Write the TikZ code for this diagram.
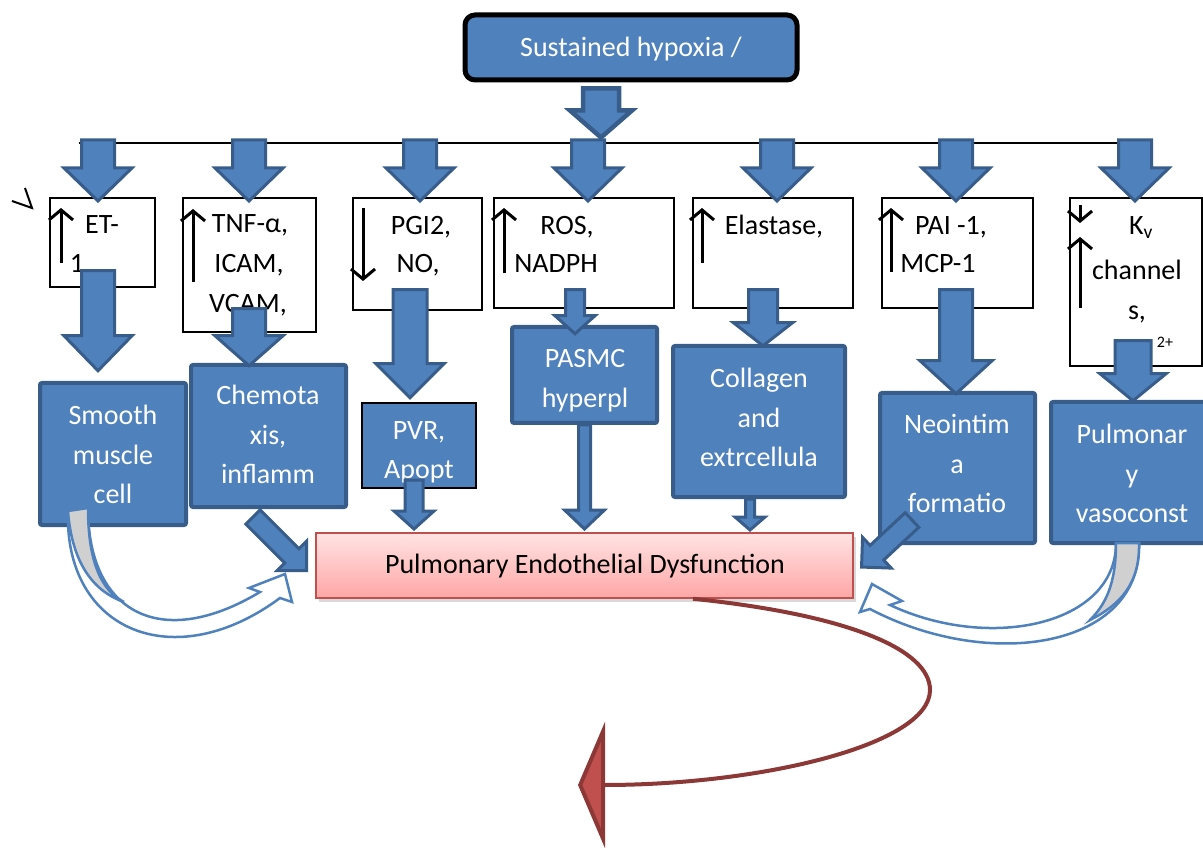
\documentclass[tikz,border=0pt]{standalone}
\usepackage{fontspec}
\setmainfont{Carlito}
\usepackage{tikz}
\usetikzlibrary{arrows.meta, shadows, calc}

\definecolor{blu}{HTML}{4F81BD}
\definecolor{blubd}{HTML}{385D8A}
\definecolor{blult}{HTML}{558ED5}
\definecolor{pinkbd}{HTML}{C0504D}
\definecolor{pinktop}{HTML}{FFE3E3}
\definecolor{pinkbot}{HTML}{FFA6A6}
\definecolor{redln}{HTML}{8C3836}
\definecolor{redfl}{HTML}{C0504D}
\definecolor{gry}{HTML}{D0D0D0}

\newcommand{\boxfont}{\fontsize{28pt}{39.5pt}\selectfont}

\begin{document}
\begin{tikzpicture}[x=1pt, y=-1pt, line width=3pt,
  hypbox/.style   = {draw=black, line width=5pt, rounded corners=10pt, fill=blu,
                     minimum width=332pt, minimum height=65pt},
  wbox/.style     = {draw=black, line width=1.5pt, fill=white},
  bbox/.style     = {draw=blubd, line width=4pt, fill=blu, rounded corners=2pt},
  pbox/.style     = {draw=pinkbd, line width=1.5pt, top color=pinktop, bottom color=pinkbot,
                     drop shadow={shadow xshift=3pt, shadow yshift=-4pt, opacity=0.3}},
  ktxt/.style     = {font=\boxfont, inner sep=0pt, anchor=base},
  wtxt/.style     = {font=\boxfont, inner sep=0pt, text=white, align=center, anchor=north},
  blkline/.style  = {draw=blubd, fill=blu},
  glyarr/.style   = {line width=3pt, -{Straight Barb[length=10pt, width=24pt]}},
  curv/.style     = {draw=blu, line width=2.5pt, fill=white},
  curvback/.style = {draw=blu, line width=2.5pt, fill=gry},
  redarr/.style   = {draw=redln, line width=4pt,
                     -{Triangle[length=27pt, width=126pt, fill=redfl]}},
  pics/blkarr/.style args={#1/#2/#3/#4}{code={
    \draw[blkline, pic actions] (-#2,0) -- (#2,0) -- (#2,#1-#4) -- (#3,#1-#4)
      -- (0,#1) -- (-#3,#1-#4) -- (-#2,#1-#4) -- cycle;}},
]
\useasboundingbox (0,0) rectangle (1203,850);

%% -- top: sustained hypoxia ------------------------------------------------
\node[hypbox] (hyp) at (631,47.5) {};
\node[ktxt, text=white] (hyp-t) at (631,57) {Sustained hypoxia /};
\pic[draw=black, line width=4.5pt] at ($(hyp.south)+(-30,6)$) {blkarr=49/18/31/27};

\coordinate (bar-l) at (79,143);
\coordinate (bar-r) at (1120,143);
\draw[line width=2pt] (bar-l) -- (bar-r);

%% stray mark
\draw[line width=2pt] (12,201) -- (32,208) -- (25,188);

%% -- mediators (white boxes) -----------------------------------------------
\node[wbox, minimum width=105pt, minimum height=89pt]  (et)  at (102.5,242.5) {};
\node[wbox, minimum width=133pt, minimum height=134pt] (tnf) at (249.5,265) {};
\node[wbox, minimum width=129pt, minimum height=112pt] (pgi) at (417.5,254) {};
\node[wbox, minimum width=180pt, minimum height=110pt] (ros) at (584,253) {};
\node[wbox, minimum width=160pt, minimum height=110pt] (ela) at (773,253) {};
\node[wbox, minimum width=151pt, minimum height=110pt] (pai) at (957.5,253) {};
\node[wbox, minimum width=132pt, minimum height=168pt] (kv)  at (1136,282) {};

\node[ktxt] (et-a)  at (102,234) {ET-};
\node[ktxt] (et-b)  at (77,273)  {1};
\node[ktxt] (tnf-a) at (250,233) {TNF-α,};
\node[ktxt] (tnf-b) at (249,273) {ICAM,};
\node[ktxt] (tnf-c) at (248,313) {VCAM,};
\node[ktxt] (pgi-a) at (421,235) {PGI2,};
\node[ktxt] (pgi-b) at (418,273) {NO,};
\node[ktxt] (ros-a) at (567,235) {ROS,};
\node[ktxt] (ros-b) at (556,273) {NADPH};
\node[ktxt] (ela-a) at (774,235) {Elastase,};
\node[ktxt] (pai-a) at (951,235) {PAI -1,};
\node[ktxt] (pai-b) at (938,273) {MCP-1};
\node[ktxt] (kv-a)  at (1141,235) {K\textsubscript{v}};
\node[ktxt] (kv-b)  at (1137,280) {channel};
\node[ktxt] (kv-c)  at (1137,320) {s,};
\node[ktxt, font=\fontsize{16pt}{18pt}\selectfont] (kv-d) at (1165,348) {2+};

%% up / down marks
\draw[glyarr] (61,263)   -- (61,208);
\draw[glyarr] (193,282)  -- (193,209);
\draw[glyarr] (363,208)  -- (363,281);
\draw[glyarr] (504,273)  -- (504,208);
\draw[glyarr] (702,263)  -- (702,208);
\draw[glyarr] (891,272)  -- (891,208);
\draw[glyarr] (1080,205) -- (1080,223);
\draw[glyarr] (1080,308) -- (1080,237);

%% arrows: bar -> mediators
\pic at ($(et.north |- bar-l)+(-4.5,-3)$)  {blkarr=61/16.5/34/33};
\pic at ($(tnf.north |- bar-l)+(-0.5,-3)$) {blkarr=61/16.5/34/33};
\pic at ($(pgi.north |- bar-l)+(2.5,-3)$)  {blkarr=61/16.5/34/33};
\pic at ($(ros.north |- bar-l)+(4,-3)$)    {blkarr=61/16.5/34/33};
\pic at ($(ela.north |- bar-l)+(4,-3)$)    {blkarr=61/16.5/34/33};
\pic[fill=blult] at ($(pai.north |- bar-l)+(-1.5,-3)$) {blkarr=61/16.5/34/33};
\pic at ($(kv.north |- bar-l)+(-1,-3)$)    {blkarr=61/16.5/34/33};

%% -- effects (blue boxes) --------------------------------------------------
\node[bbox, minimum width=146pt, minimum height=142pt] (smc)   at (113,454) {};
\node[bbox, minimum width=155pt, minimum height=142pt] (chem)  at (268.5,436) {};
\node[bbox, draw=black, line width=2pt, rounded corners=0pt,
      minimum width=114pt, minimum height=85pt]        (pvr)   at (419,445.5) {};
\node[bbox, minimum width=145pt, minimum height=96pt]  (pasmc) at (584.5,375) {};
\node[bbox, minimum width=172pt, minimum height=151pt] (coll)  at (759,421.5) {};
\node[bbox, minimum width=155pt, minimum height=150pt] (neo)   at (957.5,468) {};
\node[bbox, minimum width=156pt, minimum height=141pt] (pvc)   at (1129,472.5) {};

\node[wtxt] (smc-t)   at (113,404)  {Smooth\\muscle\\cell};
\node[wtxt] (chem-t)  at (268,384)  {Chemota\\xis,\\inflamm};
\node[wtxt] (pvr-t)   at (419,420)  {PVR,\\Apopt};
\node[wtxt] (pasmc-t) at (585,348)  {PASMC\\hyperpl};
\node[wtxt] (coll-t)  at (759,367)  {Collagen\\and\\extrcellula};
\node[wtxt] (neo-t)   at (957,413)  {Neointim\\a\\formatio};
\node[wtxt] (pvc-t)   at (1132,423) {Pulmonar\\y\\vasoconst};

%% arrows: mediators -> effects
\pic at ($(et.south)+(-4.5,-17)$)  {blkarr=100/16.5/34/35};
\pic at ($(tnf.south)+(-0.5,-24)$) {blkarr=57/16.5/34/30};
\pic at ($(pgi.south)+(-7.5,-21)$) {blkarr=108/17/34/34};
\pic at ($(ros.south)+(-9,-19)$)   {blkarr=44/9.5/20/18};
\pic at ($(ela.south)+(-10,-19)$)  {blkarr=56/14.5/29.5/23};
\pic at ($(pai.south)+(-1.5,-19)$) {blkarr=104/16.5/36/33};
\pic at ($(kv.south)+(-3,-26)$)    {blkarr=60/18/33/27};

%% -- endothelial dysfunction -----------------------------------------------
\node[pbox, minimum width=537pt, minimum height=65pt] (pink) at (584.5,565.5) {};
\node[ktxt] (pink-t) at (585,573) {Pulmonary Endothelial Dysfunction};

%% arrows: effects -> dysfunction
\pic at ($(pvr.south)+(-5,-9)$)    {blkarr=49/9/20/18};
\pic at (pasmc.south)              {blkarr=104/6/20/19};
\pic at ($(coll.south)+(-9,0)$)    {blkarr=31/4.5/15/13};
\pic[rotate=45]  at ($(chem.south)+(-15.5,8)$) {blkarr=76/10/21/21};
\pic[rotate=-47] at ($(neo.south)+(-45.5,-25)$) {blkarr=69/10/21/21};

%% curved arrows
\draw[curv] (68,511) .. controls (64,632) and (175,676) .. (280,598)
  -- (292,602) -- (285,574) -- (249,588) -- (260,592)
  .. controls (160,652) and (88,612) .. (88,508) -- cycle;
\draw[curvback] (68,511) .. controls (72,565) and (95,592) .. (124,602)
  .. controls (100,590) and (88,559) .. (88,508) -- cycle;

\draw[curv] (1139,543) .. controls (1142,648) and (990,672) .. (870,609)
  -- (860,612) -- (872,584) -- (902,601) -- (890,605)
  .. controls (990,652) and (1116,625) .. (1116,543) -- cycle;
\draw[curvback] (1116,543) .. controls (1116,585) and (1105,605) .. (1090,620)
  .. controls (1120,605) and (1140,583.8) .. (1139,543) -- cycle;

%% outcome arrow
\coordinate (red-end) at (578,785);
\draw[redarr] ($(pink.south)+(108.5,0)$) .. controls (850,615) and (930,650) .. (930,690)
  .. controls (930,745) and (760,785) .. (red-end);

\end{tikzpicture}
\end{document}
